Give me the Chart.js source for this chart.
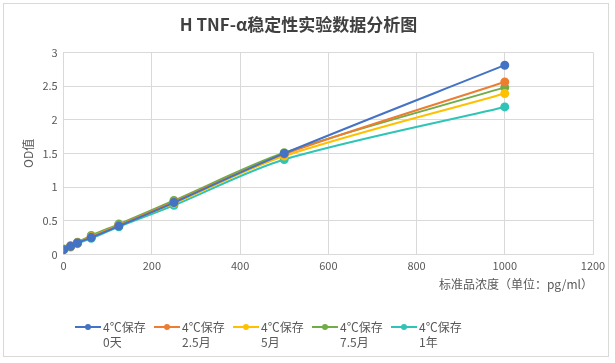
<!DOCTYPE html>
<html>
<head>
<meta charset="utf-8">
<script src="https://cdn.jsdelivr.net/npm/chart.js@4/dist/chart.umd.min.js"></script>
<style>
  html, body { margin: 0; padding: 0; background: #fff; }
  #wrap { position: relative; width: 615px; height: 363px; }
  #frame { position: absolute; left: 3px; top: 3px; width: 606px; height: 354px; border: 1px solid #d9d9d9; box-sizing: border-box; pointer-events: none; }
  canvas { position: absolute; left: 0; top: 0; }
</style>
</head>
<body>
<div id="wrap">
  <canvas id="chart" width="615" height="363"></canvas>
  <div id="frame"></div>
</div>
<script>
const concentrations = [0, 15.625, 31.25, 62.5, 125, 250, 500, 1000];
const seriesNames = [
  ['4℃保存', '0天'],
  ['4℃保存', '2.5月'],
  ['4℃保存', '5月'],
  ['4℃保存', '7.5月'],
  ['4℃保存', '1年']
];
const day0 = [0.07, 0.12, 0.17, 0.25, 0.42, 0.77, 1.50, 2.81];
const month2_5 = [0.07, 0.12, 0.17, 0.26, 0.43, 0.78, 1.49, 2.56];
const month5 = [0.07, 0.12, 0.17, 0.26, 0.43, 0.76, 1.46, 2.39];
const month7_5 = [0.08, 0.13, 0.18, 0.28, 0.45, 0.80, 1.51, 2.48];
const year1 = [0.07, 0.11, 0.16, 0.24, 0.41, 0.73, 1.41, 2.19];
const colors = ['#4472c4', '#ed7d31', '#ffc000', '#70ad47', '#2ec4b6'];
const allSeries = [day0, month2_5, month5, month7_5, year1];

const font = "'Noto Sans CJK SC', 'Noto Sans', sans-serif";

const datasets = allSeries.map((vals, i) => ({
  label: seriesNames[i].join(' '),
  lines: seriesNames[i],
  data: concentrations.map((x, j) => ({ x: x, y: vals[j] })),
  borderColor: colors[i],
  backgroundColor: colors[i],
  borderWidth: 2,
  pointRadius: 3.5,
  pointHoverRadius: 3.5,
  tension: 0.3,
  showLine: true
}));

// legend drawn by hand so labels can wrap to two lines
const legendPlugin = {
  id: 'twoLineLegend',
  afterDraw(chart) {
    const ctx = chart.ctx;
    let x = 75;
    const y = 327;
    ctx.save();
    ctx.font = '12px ' + font;
    ctx.textBaseline = 'middle';
    chart.data.datasets.forEach(ds => {
      ctx.strokeStyle = ds.borderColor;
      ctx.lineWidth = 2;
      ctx.beginPath();
      ctx.moveTo(x, y);
      ctx.lineTo(x + 26, y);
      ctx.stroke();
      ctx.fillStyle = ds.borderColor;
      ctx.beginPath();
      ctx.arc(x + 13, y, 3, 0, Math.PI * 2);
      ctx.fill();
      ctx.fillStyle = '#595959';
      ctx.fillText(ds.lines[0], x + 28, y);
      ctx.fillText(ds.lines[1], x + 28, y + 15);
      x += 79;
    });
    ctx.restore();
  }
};

new Chart(document.getElementById('chart'), {
  type: 'scatter',
  data: { datasets: datasets },
  options: {
    responsive: false,
    animation: false,
    layout: { padding: { left: 4, right: 22, top: 14, bottom: 71 } },
    plugins: {
      legend: { display: false },
      tooltip: { enabled: false },
      title: {
        display: true,
        text: 'H TNF-α稳定性实验数据分析图',
        color: '#404040',
        font: { family: font, size: 17, weight: 'bold' },
        padding: { top: 0, bottom: 18 }
      }
    },
    scales: {
      x: {
        type: 'linear',
        min: 0,
        max: 1200,
        ticks: { stepSize: 200, color: '#595959', font: { family: font, size: 11 }, padding: 5, callback: v => String(v) },
        grid: { color: '#d9d9d9', drawTicks: false },
        border: { color: '#d9d9d9' },
        title: {
          display: true,
          text: '标准品浓度（单位：pg/ml）',
          align: 'end',
          color: '#595959',
          font: { family: font, size: 12 },
          padding: { top: 0, bottom: 0 }
        }
      },
      y: {
        min: 0,
        max: 3,
        ticks: { stepSize: 0.5, color: '#595959', font: { family: font, size: 11 }, padding: 6, callback: v => String(v) },
        grid: { color: '#d9d9d9', drawTicks: false },
        border: { color: '#d9d9d9' },
        title: {
          display: true,
          text: 'OD值',
          color: '#595959',
          font: { family: font, size: 12 },
          padding: { top: 17, bottom: 1 }
        }
      }
    }
  },
  plugins: [legendPlugin]
});
</script>
</body>
</html>
